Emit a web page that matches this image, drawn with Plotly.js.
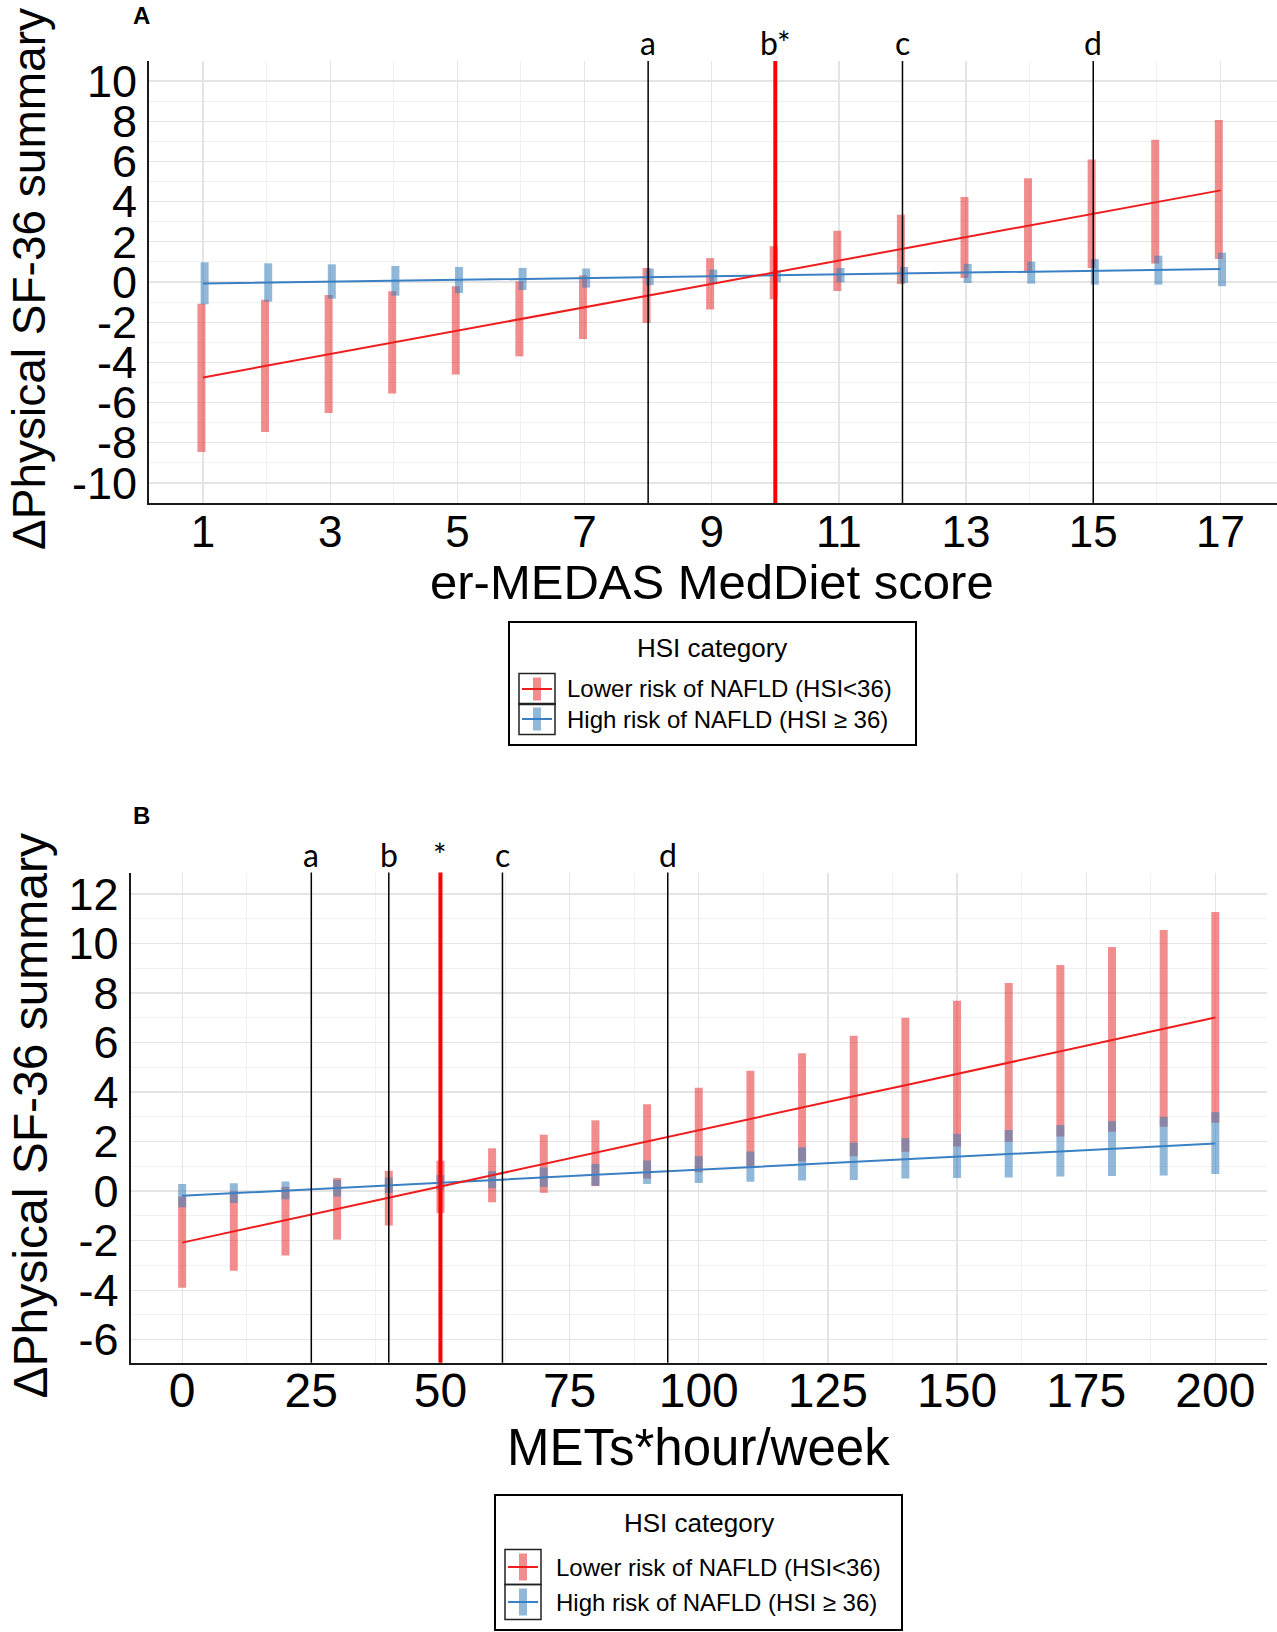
<!DOCTYPE html>
<html>
<head>
<meta charset="utf-8">
<script src="https://cdn.plot.ly/plotly-3.0.1.min.js"></script>
<style>
  body { margin: 0; background: #fff; }
  #chart { width: 1277px; height: 1632px; }
</style>
</head>
<body>
<div id="chart"></div>
<script>
// ---- panel A: er-MEDAS MedDiet score ----
const scoreA = [1, 2, 3, 4, 5, 6, 7, 8, 9, 10, 11, 12, 13, 14, 15, 16, 17];
const lowEstA  = [-4.75, -4.17, -3.59, -3.01, -2.43, -1.85, -1.27, -0.69, -0.11, 0.47, 1.05, 1.63, 2.21, 2.79, 3.37, 3.95, 4.56];
const lowLoA   = [-8.46, -7.46, -6.52, -5.55, -4.61, -3.70, -2.84, -2.04, -1.37, -0.86, -0.45, -0.10, 0.20, 0.45, 0.70, 0.92, 1.14];
const lowHiA   = [-1.08, -0.88, -0.65, -0.46, -0.21, 0.03, 0.33, 0.70, 1.19, 1.78, 2.55, 3.35, 4.23, 5.16, 6.10, 7.08, 8.06];
const highEstA = [-0.08, -0.03, 0.01, 0.06, 0.10, 0.15, 0.19, 0.24, 0.29, 0.33, 0.38, 0.42, 0.47, 0.51, 0.56, 0.61, 0.65];
const highLoA  = [-1.11, -0.98, -0.83, -0.68, -0.55, -0.40, -0.28, -0.16, -0.08, -0.02, -0.02, -0.05, -0.05, -0.08, -0.13, -0.13, -0.21];
const highHiA  = [0.98, 0.93, 0.88, 0.80, 0.75, 0.70, 0.67, 0.67, 0.62, 0.58, 0.70, 0.75, 0.90, 1.01, 1.14, 1.31, 1.46];
const cutsA = [8, 10, 12, 15];
const cutLabelsA = ['a', 'b*', 'c', 'd'];
const xTicksA = [1, 3, 5, 7, 9, 11, 13, 15, 17];
const yTicksA = [-10, -8, -6, -4, -2, 0, 2, 4, 6, 8, 10];
const yTickTextA = ['-10', '-8', '-6', '-4', '-2', '0', '2', '4', '6', '8', '10'];

// ---- panel B: METs*hour/week ----
const metsB = [0, 10, 20, 30, 40, 50, 60, 70, 80, 90, 100, 110, 120, 130, 140, 150, 160, 170, 180, 190, 200];
const lowEstB  = [-2.08, -1.62, -1.17, -0.72, -0.27, 0.19, 0.64, 1.10, 1.55, 2.01, 2.46, 2.92, 3.37, 3.83, 4.28, 4.74, 5.19, 5.65, 6.10, 6.56, 7.01];
const lowLoB   = [-3.90, -3.22, -2.60, -1.96, -1.39, -0.88, -0.45, -0.07, 0.20, 0.51, 0.76, 0.98, 1.20, 1.41, 1.59, 1.80, 1.99, 2.21, 2.40, 2.60, 2.76];
const lowHiB   = [-0.22, 0.00, 0.17, 0.53, 0.82, 1.23, 1.73, 2.28, 2.86, 3.51, 4.18, 4.86, 5.57, 6.28, 7.00, 7.69, 8.41, 9.13, 9.86, 10.55, 11.27];
const highEstB = [-0.19, -0.08, 0.02, 0.13, 0.23, 0.34, 0.44, 0.55, 0.66, 0.76, 0.87, 0.97, 1.08, 1.18, 1.29, 1.39, 1.50, 1.60, 1.71, 1.82, 1.92];
const highLoB  = [-0.65, -0.48, -0.33, -0.22, -0.07, 0.05, 0.12, 0.17, 0.22, 0.29, 0.33, 0.38, 0.43, 0.45, 0.51, 0.53, 0.55, 0.59, 0.61, 0.63, 0.69];
const highHiB  = [0.29, 0.32, 0.39, 0.46, 0.55, 0.65, 0.80, 0.95, 1.10, 1.24, 1.41, 1.60, 1.77, 1.96, 2.14, 2.31, 2.47, 2.67, 2.83, 3.00, 3.19];
const cutsB = [25, 40, 50, 62, 94];
const cutLabelsB = ['a', 'b', '*', 'c', 'd'];
const xTicksB = [0, 25, 50, 75, 100, 125, 150, 175, 200];
const yTicksB = [-6, -4, -2, 0, 2, 4, 6, 8, 10, 12];
const yTickTextB = ['-6', '-4', '-2', '0', '2', '4', '6', '8', '10', '12'];

const legendTitle = 'HSI category';
const groupNames = ['Lower risk of NAFLD (HSI&lt;36)', 'High risk of NAFLD (HSI ≥ 36)'];

// ---- styling ----
const W = 1277, H = 1632;
const px = v => v / W;
const py = v => 1 - v / H;
const FONT = 'Liberation Sans, Arial, sans-serif';
const RED_BAR = 'rgba(232,65,65,0.6)';
const BLUE_BAR = 'rgba(55,126,184,0.55)';
const RED_LINE = '#EE1C1C';
const BLUE_LINE = '#3A80C4';

function barTrace(x, est, lo, hi, color, shift, ax) {
  return {
    x: x.map(v => v + shift), y: est, type: 'scatter', mode: 'markers',
    marker: {size: 1, opacity: 0}, showlegend: false, hoverinfo: 'skip',
    xaxis: ax[0], yaxis: ax[1],
    error_y: {
      type: 'data', symmetric: false,
      array: hi.map((v, i) => v - est[i]),
      arrayminus: lo.map((v, i) => est[i] - v),
      color: color, thickness: 8, width: 0
    }
  };
}

function lineTrace(x, est, color, ax) {
  return {x: x, y: est, type: 'scatter', mode: 'lines', line: {color: color, width: 2},
          showlegend: false, hoverinfo: 'skip', xaxis: ax[0], yaxis: ax[1]};
}

const axA = ['x', 'y'], axB = ['x2', 'y2'];
const data = [
  barTrace(scoreA, lowEstA, lowLoA, lowHiA, RED_BAR, -0.025, axA),
  barTrace(scoreA, highEstA, highLoA, highHiA, BLUE_BAR, 0.025, axA),
  lineTrace(scoreA, highEstA, BLUE_LINE, axA),
  lineTrace(scoreA, lowEstA, RED_LINE, axA),

  barTrace(metsB, lowEstB, lowLoB, lowHiB, RED_BAR, 0, axB),
  barTrace(metsB, highEstB, highLoB, highHiB, BLUE_BAR, 0, axB),
  lineTrace(metsB, highEstB, BLUE_LINE, axB),
  lineTrace(metsB, lowEstB, RED_LINE, axB)
];

function xAxis(domain, range, ticks, minorStep, anchor, size, standoff) {
  return {
    domain: domain, range: range, anchor: anchor, tickmode: 'array', tickvals: ticks,
    ticks: '', tickfont: {size: size, color: '#000'}, ticklabelstandoff: standoff,
    showgrid: true, gridcolor: '#E4E4E4', gridwidth: 1.3,
    minor: {dtick: minorStep, tick0: 0, showgrid: true, gridcolor: '#F1F1F1', gridwidth: 1},
    showline: true, linecolor: '#1a1a1a', linewidth: 2, zeroline: false, fixedrange: true
  };
}
function yAxis(domain, range, ticks, text, anchor) {
  return {
    domain: domain, range: range, anchor: anchor, tickmode: 'array', tickvals: ticks, ticktext: text,
    ticks: '', tickfont: {size: 45, color: '#000'}, ticklabelstandoff: 1,
    showgrid: true, gridcolor: '#E4E4E4', gridwidth: 1.3,
    minor: {dtick: 1, tick0: 0, showgrid: true, gridcolor: '#F1F1F1', gridwidth: 1},
    showline: true, linecolor: '#1a1a1a', linewidth: 2, zeroline: false, fixedrange: true
  };
}

const shapes = [];
const annotations = [];
function addCuts(cuts, labels, xref, yref) {
  cuts.forEach((c, i) => {
    const star = labels[i].indexOf('*') >= 0;
    shapes.push({type: 'line', xref: xref, yref: yref + ' domain', x0: c, x1: c, y0: 0, y1: 1,
                 line: {color: star ? '#FF0000' : '#000', width: star ? 4 : 1.5}});
    annotations.push({xref: xref, yref: yref + ' domain', x: c, y: 1, yanchor: 'bottom', yshift: -3,
                      text: labels[i], showarrow: false,
                      font: {family: 'Lato, Open Sans, sans-serif', size: 32, color: '#000'}});
  });
}
addCuts(cutsA, cutLabelsA, 'x', 'y');
addCuts(cutsB, cutLabelsB, 'x2', 'y2');

function label(text, x, y, size, angle, xanchor) {
  annotations.push({xref: 'paper', yref: 'paper', x: px(x), y: py(y), text: text, showarrow: false,
                    textangle: angle || 0, xanchor: xanchor || 'center', yanchor: 'middle',
                    font: {family: FONT, size: size, color: '#000'}});
}
label('<b>A</b>', 141, 16, 24);
label('<b>B</b>', 141, 815, 24);
label('ΔPhysical SF-36 summary', 1, 279, 46, -90, 'left');
label('ΔPhysical SF-36 summary', 1, 1116, 48, -90, 'left');
label('er-MEDAS MedDiet score', 712, 582, 49);
label('METs*hour/week', 698, 1447, 51);

// hand-built legend box (title, keyed rows with small framed keys)
function legendBox(box, titleY, rowsY, rowH, keyX, textX) {
  const pr = (x0, x1, y0, y1) => ({xref: 'paper', yref: 'paper', x0: px(x0), x1: px(x1), y0: py(y1), y1: py(y0)});
  shapes.push(Object.assign({type: 'rect', line: {color: '#000', width: 2}, fillcolor: 'rgba(0,0,0,0)'},
                            pr(box[0], box[1], box[2], box[3])));
  label(legendTitle, (box[0] + box[1]) / 2, titleY, 26);
  const bars = [RED_BAR, BLUE_BAR], lines = [RED_LINE, BLUE_LINE];
  rowsY.forEach((y, i) => {
    const cx = (keyX[0] + keyX[1]) / 2;
    shapes.push(Object.assign({type: 'rect', line: {color: '#222', width: 1.5}, fillcolor: 'rgba(0,0,0,0)'},
                              pr(keyX[0], keyX[1], y - rowH / 2, y + rowH / 2)));
    shapes.push(Object.assign({type: 'rect', line: {width: 0}, fillcolor: bars[i]},
                              pr(cx - 4, cx + 4, y - rowH / 2 + 4, y + rowH / 2 - 4)));
    shapes.push(Object.assign({type: 'line', line: {color: lines[i], width: 2}},
                              pr(keyX[0] + 3, keyX[1] - 3, y, y)));
    label(groupNames[i], textX, y, 24, 0, 'left');
  });
}
legendBox([509, 916, 622, 745], 648, [689, 719], 31, [519, 555], 565);
legendBox([495, 902, 1495, 1630], 1523, [1567, 1602], 35, [505, 541], 554);

const layout = {
  width: W, height: H, margin: {l: 0, r: 0, t: 0, b: 0},
  paper_bgcolor: '#fff', plot_bgcolor: '#fff', showlegend: false,
  font: {family: FONT, color: '#000'},
  xaxis: xAxis([px(149), 1], [0.15, 17.89], xTicksA, 1, 'y', 44, -11),
  yaxis: yAxis([py(503), py(61)], [-11, 11], yTicksA, yTickTextA, 'x'),
  xaxis2: xAxis([px(130.5), px(1267)], [-10, 210], xTicksB, 12.5, 'y2', 48, -15),
  yaxis2: yAxis([py(1362.7), py(872.5)], [-6.93, 12.87], yTicksB, yTickTextB, 'x2'),
  shapes: shapes,
  annotations: annotations
};

Plotly.newPlot('chart', data, layout, {staticPlot: true, displayModeBar: false});
</script>
</body>
</html>
